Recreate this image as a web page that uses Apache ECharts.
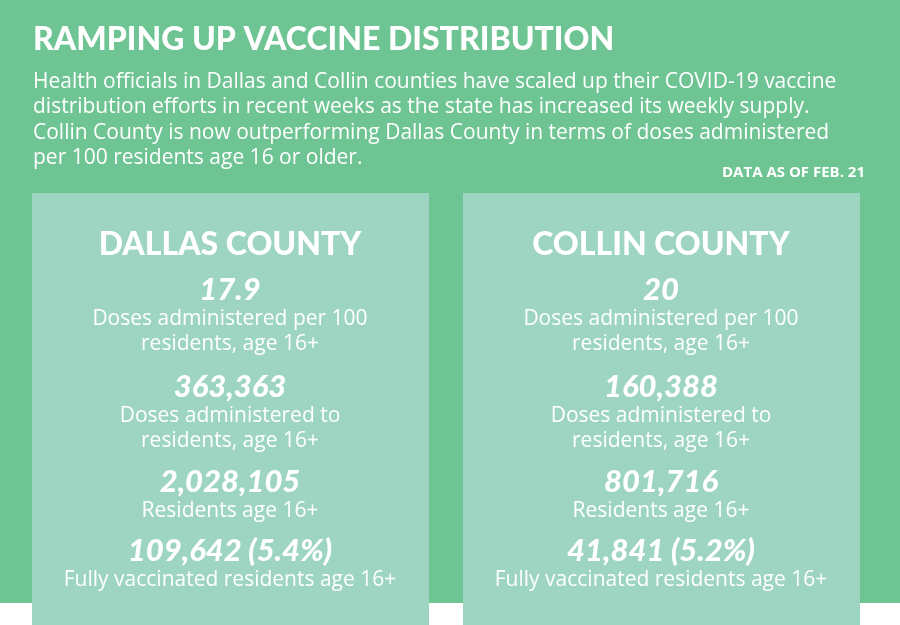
<!DOCTYPE html>
<html><head><meta charset="utf-8">
<script src="https://cdn.jsdelivr.net/npm/echarts@6/dist/echarts.min.js"></script>
<style>html,body{margin:0;padding:0;background:#fff}#c{width:900px;height:625px}</style>
</head><body><div id="c"></div>
<script>
var title = 'RAMPING UP VACCINE DISTRIBUTION';
var intro = [
 'Health officials in Dallas and Collin counties have scaled up their COVID-19 vaccine',
 'distribution efforts in recent weeks as the state has increased its weekly supply.',
 'Collin County is now outperforming Dallas County in terms of doses administered',
 'per 100 residents age 16 or older.'
];
var note = 'DATA AS OF FEB. 21';
var counties = ['DALLAS COUNTY', 'COLLIN COUNTY'];
var perHundred = ['17.9', '20'];
var dosesAdmin = ['363,363', '160,388'];
var residents = ['2,028,105', '801,716'];
var fully = ['109,642 (5.4%)', '41,841 (5.2%)'];
var labels = [
 ['Doses administered per 100', 'residents, age 16+'],
 ['Doses administered to', 'residents, age 16+'],
 ['Residents age 16+'],
 ['Fully vaccinated residents age 16+']
];

var chart = echarts.init(document.getElementById('c'));
var g = [];
g.push({type:'rect', shape:{x:0,y:0,width:900,height:603}, style:{fill:'#6fc493'}});
g.push({type:'text', x:33, y:40, style:{text:title, fill:'#fff', font:'900 32px Lato', textVerticalAlign:'middle'}});
intro.forEach(function(t,i){
  g.push({type:'text', x:33, y:82+i*25.5, style:{text:t, fill:'#fff', font:'21px "Open Sans"', textVerticalAlign:'middle'}});
});
g.push({type:'text', x:865, y:173, style:{text:note, fill:'#fff', font:'bold 15px "Open Sans"', textAlign:'right', textVerticalAlign:'middle'}});
var panelX = [32, 463], cx = [230, 661];
counties.forEach(function(name,i){
  g.push({type:'rect', shape:{x:panelX[i], y:193, width:397, height:432}, style:{fill:'#9dd5c2'}});
  function t(txt,y,font){ g.push({type:'text', x:cx[i], y:y, style:{text:txt, fill:'#fff', font:font, textAlign:'center', textVerticalAlign:'middle'}}); }
  var big = 'italic 900 31px Lato', small = '21px "Open Sans"';
  t(name, 245, '900 32px Lato');
  var vals = [perHundred[i], dosesAdmin[i], residents[i], fully[i]];
  var ys = [290, 387, 482, 551];
  vals.forEach(function(v,k){
    t(v, ys[k], big);
    labels[k].forEach(function(l,j){ t(l, ys[k]+29+j*25, small); });
  });
});
chart.setOption({animation:false, graphic:g});
</script></body></html>
